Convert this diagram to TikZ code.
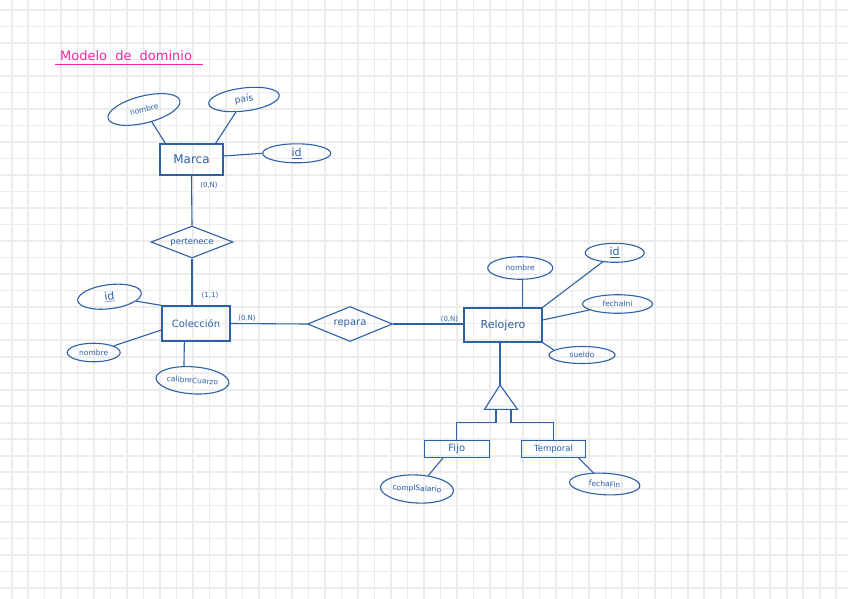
\documentclass[tikz,border=0pt]{standalone}
\usepackage{fontspec}
\setmainfont{DejaVu Sans}
\usetikzlibrary{shapes.geometric,calc}
\definecolor{ink}{RGB}{46,96,166}
\definecolor{pinkink}{RGB}{240,40,160}
\definecolor{gridc}{RGB}{236,236,236}
\tikzset{
  ent/.style={draw=ink, line width=1.3pt, text=ink, rectangle, inner sep=0pt},
  attr/.style={draw=ink, line width=1.1pt, text=ink, ellipse, inner sep=0pt},
  rel/.style={draw=ink, line width=1.1pt, text=ink, diamond, inner sep=0pt, aspect=2.5},
  card/.style={text=ink, inner sep=0pt, font=\fontsize{7}{8}\selectfont},
  conn/.style={draw=ink, line width=1.1pt},
}
\begin{document}
\begin{tikzpicture}[x=1pt,y=-1pt]
\useasboundingbox (0,0) rectangle (848,599);
\fill[white] (0,0) rectangle (848,599);
% grid
\foreach \i in {0,...,50} \draw[gridc, line width=1.6pt] ({11.7+16.49*\i},0) -- ++(0,599);
\foreach \j in {0,...,35} \draw[gridc, line width=1.6pt] (0,{10+16.51*\j}) -- ++(848,0);

% title
\node[text=pinkink, anchor=base west, inner sep=0pt, font=\fontsize{13}{15}\selectfont] (title) at (60,61) {Modelo\hspace{4pt} de\hspace{4pt} dominio};
\draw[pinkink, line width=1.2pt] (55,64.5) -- (203,64.5);

% Marca
\node[ent, minimum width=63pt, minimum height=31pt, font=\fontsize{12}{14}\selectfont] (marca) at (191.5,159.5) {Marca};
\node[attr, minimum width=74pt, minimum height=27pt, rotate=14, font=\fontsize{7.5}{9}\selectfont] (mnom) at (144,109.5) {nombre};
\node[attr, minimum width=71pt, minimum height=23pt, rotate=7, font=\fontsize{9}{11}\selectfont] (mpais) at (244,99.5) {país};
\node[attr, minimum width=68pt, minimum height=19pt, font=\fontsize{11}{13}\selectfont] (mid) at (296.7,153.3) {\underline{id}};
\draw[conn] (mnom) -- ($(marca.north west)+(6,0)$);
\draw[conn] (mpais) -- ($(marca.north east)+(-8,0)$);
\draw[conn] ($(marca.east)+(0,-3.5)$) -- (mid.west);

% pertenece
\node[rel, minimum width=82pt, minimum height=32pt, font=\fontsize{8.5}{10}\selectfont] (pert) at (192,242) {pertenece};
\draw[conn] (marca.south) -- (pert.north);
\node[card] (c1) at (209,185) {(0,N)};

% Coleccion
\node[ent, minimum width=68pt, minimum height=35pt, font=\fontsize{10}{12}\selectfont] (col) at (196,323.5) {Colección};
\draw[conn] (pert.south) -- (pert.south |- col.north);
\node[card] (c2) at (210,295) {(1,1)};
\node[attr, minimum width=64pt, minimum height=24pt, rotate=7, font=\fontsize{11}{13}\selectfont] (cid) at (109.5,296.7) {\underline{id}};
\node[attr, minimum width=53pt, minimum height=18.5pt, font=\fontsize{7.5}{9}\selectfont] (cnom) at (93.7,352.5) {nombre};
\node[attr, minimum width=73pt, minimum height=27pt, rotate=-4, font=\fontsize{7.5}{9}\selectfont] (cal) at (192.5,380.3) {calibreCuarzo};
\draw[conn] (col.north west) -- (cid);
\draw[conn] ($(col.west)+(0,6.5)$) -- (cnom);
\draw[conn] ($(col.south west)+(23,0)$) -- (cal.125);

% repara
\node[rel, minimum width=85pt, minimum height=35pt, font=\fontsize{10}{12}\selectfont] (rep) at (350,324) {repara};
\node[card] (c3) at (247,318) {(0,N)};
\node[card] (c4) at (449.5,319) {(0,N)};

% Relojero
\node[ent, minimum width=78pt, minimum height=34pt, font=\fontsize{11}{13}\selectfont] (relo) at (503,325) {Relojero};
\draw[conn] (col.east) -- (rep.west);
\draw[conn] (rep.east) -- (rep.east -| relo.west);
\node[attr, minimum width=65pt, minimum height=22.5pt, font=\fontsize{7.5}{9}\selectfont] (rnom) at (520.2,268) {nombre};
\node[attr, minimum width=59pt, minimum height=19pt, font=\fontsize{11}{13}\selectfont] (rid) at (614.7,252.8) {\underline{id}};
\node[attr, minimum width=70pt, minimum height=18.5pt, font=\fontsize{7.5}{9}\selectfont] (rfi) at (617.5,304) {fechaIni};
\node[attr, minimum width=66pt, minimum height=17pt, font=\fontsize{7.5}{9}\selectfont] (rsue) at (582,355) {sueldo};
\draw[conn] (rnom.283) -- (rnom.283 |- relo.north);
\draw[conn] (relo.north east) -- (rid);
\draw[conn] ($(relo.east)+(0,-5)$) -- (rfi);
\draw[conn] (relo.south east) -- (rsue.170);

% specialization triangle
\coordinate (apex) at (500,385);
\coordinate (tbl) at (484.5,409.3);
\coordinate (tbr) at (517.5,409.3);
\draw[conn] (apex |- relo.south) -- (apex);
\draw[conn, line join=miter] (apex) -- (tbl) -- (tbr) -- cycle;
\coordinate (bl) at (496,409.3);
\coordinate (br) at (511,409.3);

% Fijo / Temporal
\node[ent, line width=1.1pt, minimum width=65pt, minimum height=17pt, font=\fontsize{10}{12}\selectfont] (fijo) at (456.8,449.2) {Fijo};
\node[ent, line width=1.1pt, minimum width=64pt, minimum height=17pt, font=\fontsize{8.5}{10}\selectfont] (temp) at (553.5,448.7) {Temporal};
\draw[conn] (bl) -- ++(0,13.4) -| (fijo.north);
\draw[conn] (br) -- ++(0,13.4) -| (temp.north);
\node[attr, minimum width=73pt, minimum height=28pt, rotate=-3, font=\fontsize{7.5}{9}\selectfont] (csal) at (417,489) {complSalario};
\node[attr, minimum width=70.5pt, minimum height=21.5pt, rotate=-3, font=\fontsize{7.5}{9}\selectfont] (ffin) at (604.7,484) {fechaFin};
\draw[conn] ($(fijo.south west)+(19,0)$) -- (csal);
\draw[conn] ($(temp.south east)+(-7.6,0)$) -- (ffin);
\end{tikzpicture}
\end{document}
